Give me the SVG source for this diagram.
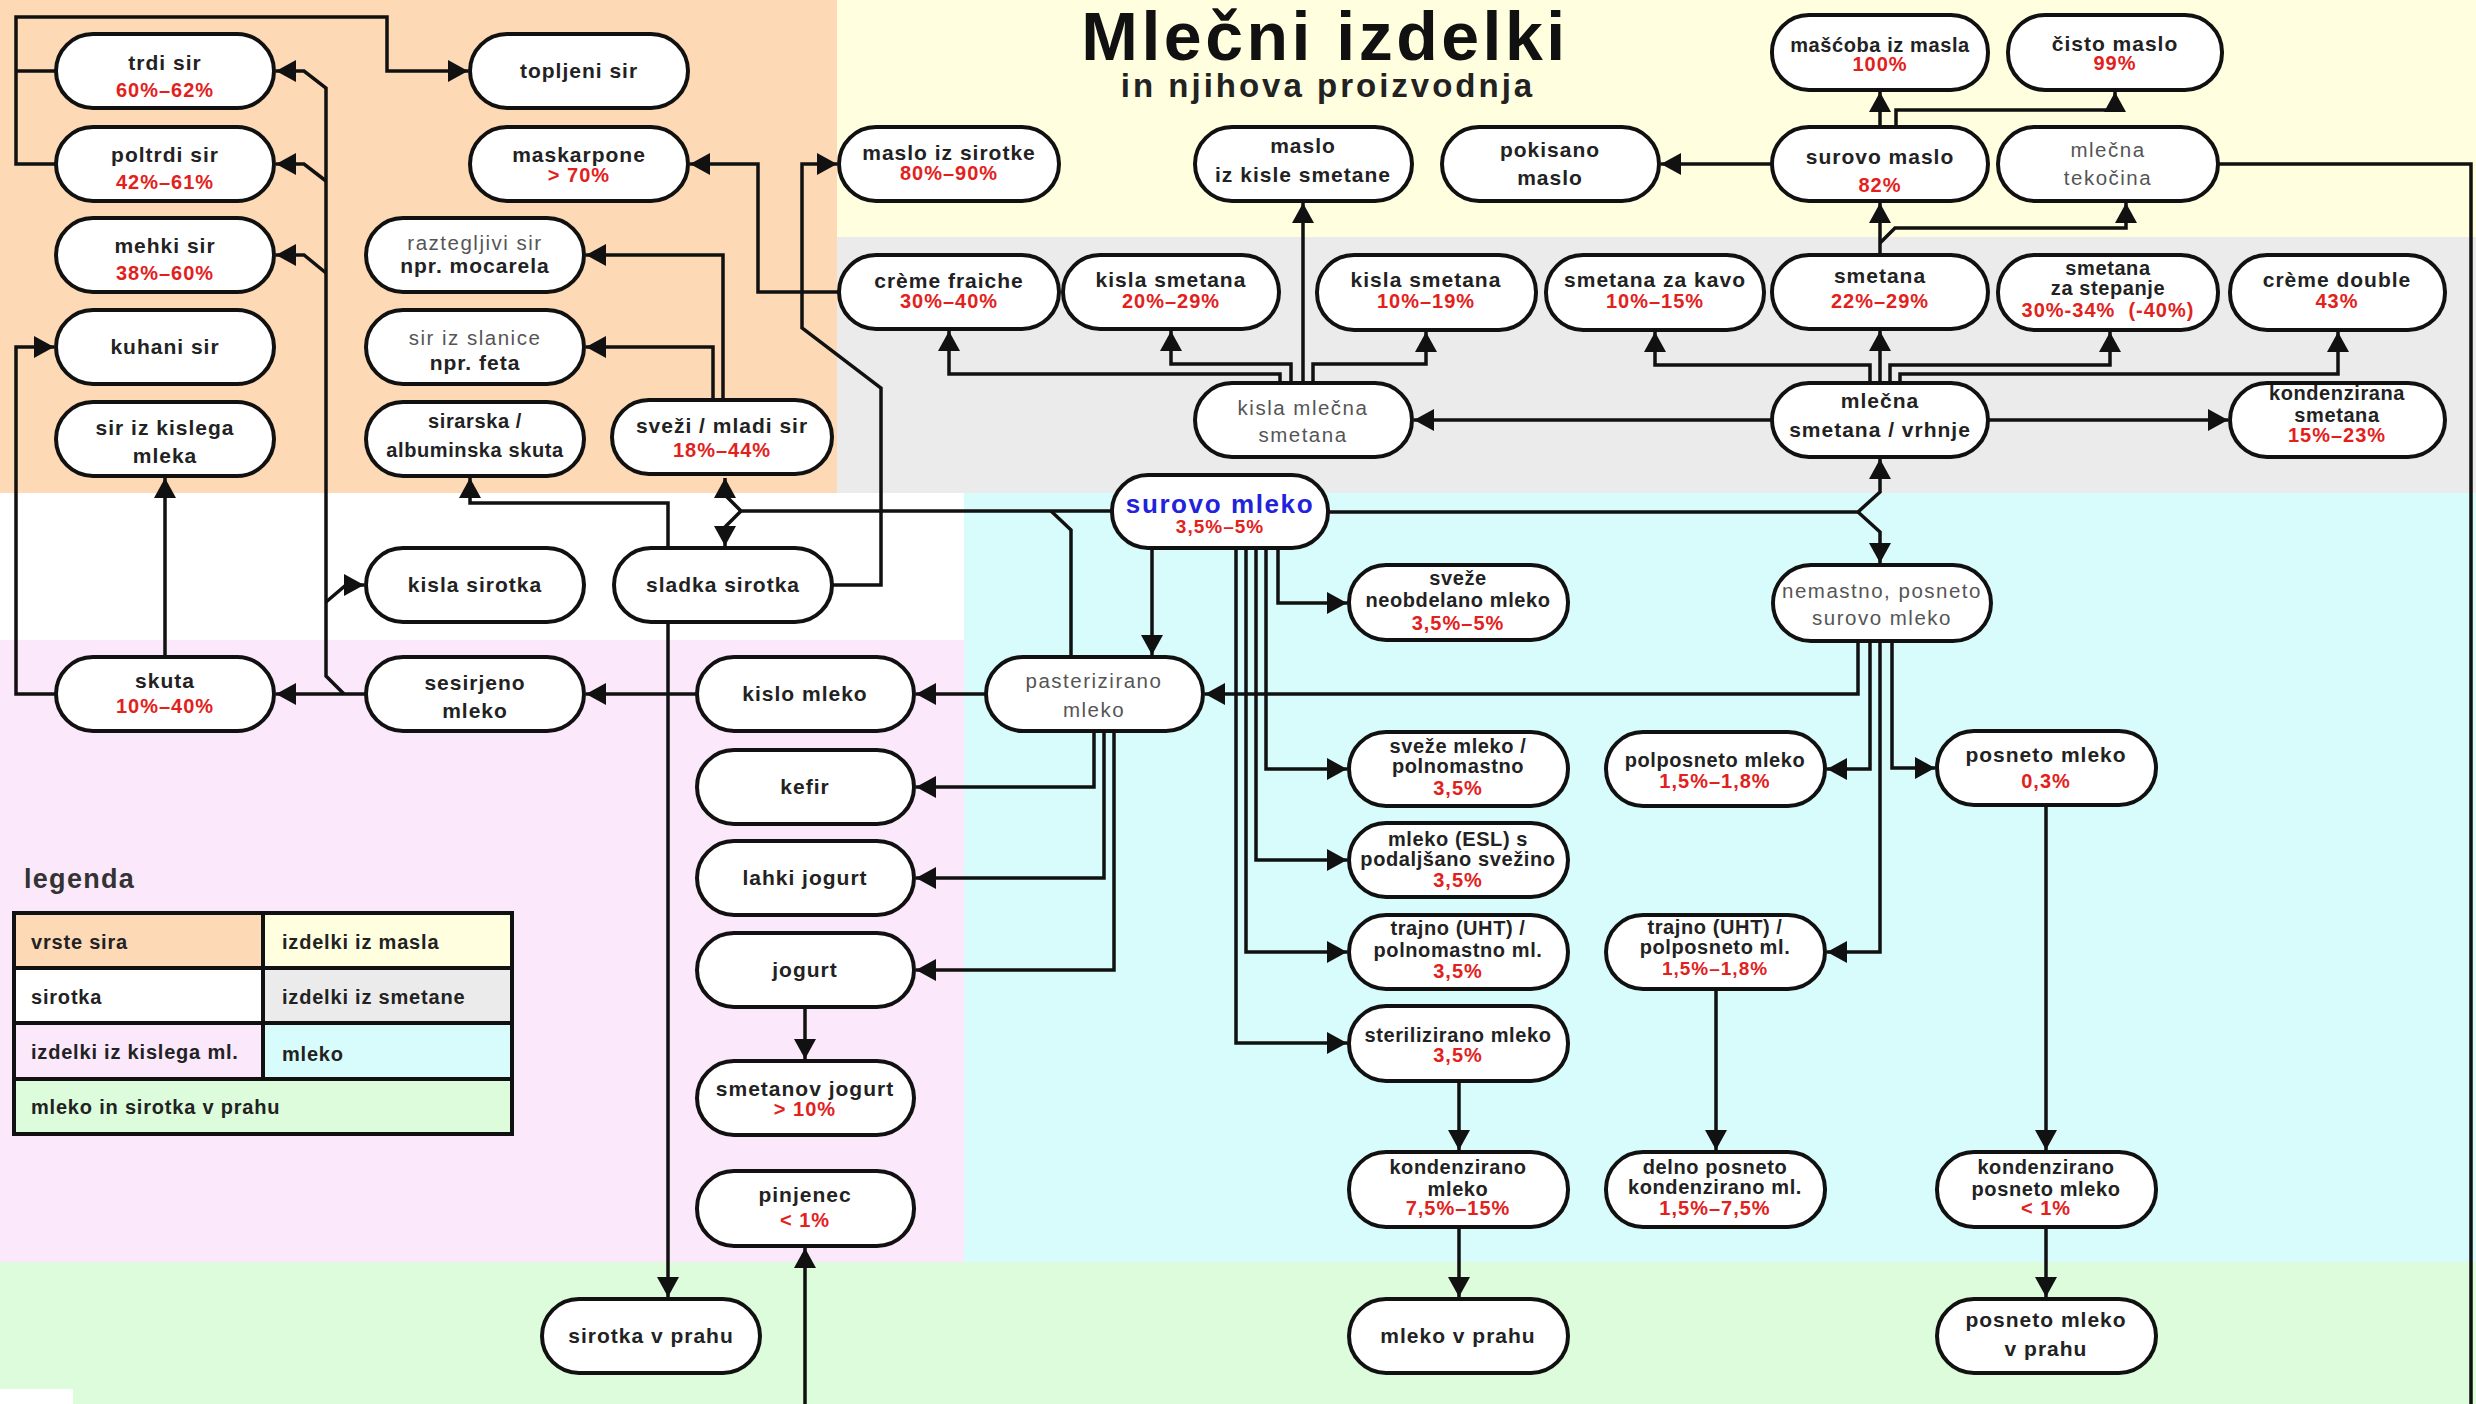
<svg xmlns="http://www.w3.org/2000/svg" width="2476" height="1404" viewBox="0 0 2476 1404">
<defs>
<style>
.n{fill:#fff;stroke:#111;stroke-width:4}
.t{font-family:"Liberation Sans",Arial,sans-serif;font-weight:bold;font-size:21px;fill:#222;text-anchor:middle;letter-spacing:1px}
.s{font-size:20px;letter-spacing:0.6px}
.r{fill:#e3211c;font-size:20px}
.g{font-weight:normal;fill:#555;font-size:20.5px;letter-spacing:1.5px}
.b{fill:#2222dd;font-size:26px;letter-spacing:1.6px}
.lg{font-family:"Liberation Sans",Arial,sans-serif;font-weight:bold;font-size:20px;fill:#222;letter-spacing:0.8px}
.c path{fill:none;stroke:#111;stroke-width:3.5}
.a{marker-end:url(#ah)}
</style>
<marker id="ah" viewBox="0 0 20 22" refX="20" refY="11" markerWidth="20" markerHeight="22" markerUnits="userSpaceOnUse" orient="auto">
<path d="M0,0 L20,11 L0,22 z" fill="#111"/>
</marker>
</defs>

<g id="backgrounds">
<rect x="0" y="0" width="837" height="493" fill="#fdd9b5"/>
<rect x="837" y="0" width="1639" height="237" fill="#ffffe0"/>
<rect x="837" y="237" width="1639" height="256" fill="#ebebeb"/>
<rect x="0" y="493" width="964" height="147" fill="#ffffff"/>
<rect x="0" y="640" width="964" height="622" fill="#fbe8fb"/>
<rect x="964" y="493" width="1512" height="769" fill="#d8fcfc"/>
<rect x="0" y="1262" width="2476" height="142" fill="#dcfcdc"/>
<rect x="0" y="1389" width="73" height="15" fill="#ffffff"/>
</g>

<g id="title">
<text x="1325" y="60" style="font-family:'Liberation Sans',Arial,sans-serif;font-weight:bold;font-size:68px;letter-spacing:3.5px;fill:#111;text-anchor:middle">Mlečni izdelki</text>
<text x="1328" y="97" style="font-family:'Liberation Sans',Arial,sans-serif;font-weight:bold;font-size:33px;letter-spacing:3px;fill:#222;text-anchor:middle">in njihova proizvodnja</text>
</g>

<g id="legend">
<text x="24" y="888" style="font-family:'Liberation Sans',Arial,sans-serif;font-weight:bold;font-size:27px;letter-spacing:1.3px;fill:#333">legenda</text>
<rect x="14" y="913" width="249" height="55" fill="#fdd9b5"/>
<rect x="263" y="913" width="249" height="55" fill="#ffffe0"/>
<rect x="14" y="968" width="249" height="55" fill="#ffffff"/>
<rect x="263" y="968" width="249" height="55" fill="#ebebeb"/>
<rect x="14" y="1023" width="249" height="56" fill="#fbe8fb"/>
<rect x="263" y="1023" width="249" height="56" fill="#d8fcfc"/>
<rect x="14" y="1079" width="498" height="55" fill="#dcfcdc"/>
<path d="M14,968 H512 M14,1023 H512 M14,1079 H512 M263,913 V1079" stroke="#111" stroke-width="4" fill="none"/>
<rect x="14" y="913" width="498" height="221" fill="none" stroke="#111" stroke-width="4"/>
<text class="lg" x="31" y="949">vrste sira</text>
<text class="lg" x="282" y="949">izdelki iz masla</text>
<text class="lg" x="31" y="1004">sirotka</text>
<text class="lg" x="282" y="1004">izdelki iz smetane</text>
<text class="lg" x="31" y="1059">izdelki iz kislega ml.</text>
<text class="lg" x="282" y="1061">mleko</text>
<text class="lg" x="31" y="1114">mleko in sirotka v prahu</text>
</g>

<g id="connectors" class="c">
<path class="a" d="M56,71 H16 M56,164 H16 V17 H387 V71 H468"/>
<path class="a" d="M366,694 H276"/>
<path class="a" d="M344,694 L326,676 V88 L304,71 H276"/>
<path class="a" d="M326,181 L304,164 H276"/>
<path class="a" d="M326,273 L304,255 H276"/>
<path class="a" d="M326,602 L346,585 H364"/>
<path class="a" d="M56,694 H16 V347 H54"/>
<path class="a" d="M165,657 V478"/>
<path class="a" d="M697,694 H586"/>
<path class="a" d="M986,694 H916"/>
<path class="a" d="M1094,731 V787 H916"/>
<path class="a" d="M1104,731 V878 H916"/>
<path class="a" d="M1114,731 V970 H916"/>
<path class="a" d="M805,1007 V1059"/>
<path class="a" d="M2218,164 H2471 V1450 H805 V1248"/>
<path class="a" d="M668,622 V1297"/>
<path class="a" d="M668,548 V503 H470 V478"/>
<path class="a" d="M832,585 H881 V388 L802,328 V164 H837"/>
<path class="a" d="M723,400 V255 H586"/>
<path class="a" d="M713,400 V347 H586"/>
<path class="a" d="M839,292 H758 V164 H690"/>
<path class="a" d="M1112,511 H741 L725,495 V478"/>
<path class="a" d="M741,511 L725,527 V546"/>
<path d="M1051,511 L1071,530 V657"/>
<path class="a" d="M1152,548 V655"/>
<path class="a" d="M1278,548 V603 H1347"/>
<path class="a" d="M1266,548 V769 H1347"/>
<path class="a" d="M1256,548 V860 H1347"/>
<path class="a" d="M1246,548 V952 H1347"/>
<path class="a" d="M1236,548 V1043 H1347"/>
<path class="a" d="M1459,1081 V1150"/>
<path class="a" d="M1459,1227 V1297"/>
<path class="a" d="M1328,512 H1858 L1880,492 V459"/>
<path class="a" d="M1858,512 L1880,532 V563"/>
<path class="a" d="M1858,641 V694 H1205"/>
<path class="a" d="M1870,641 V769 H1827"/>
<path class="a" d="M1880,641 V952 H1827"/>
<path class="a" d="M1892,641 V768 H1935"/>
<path class="a" d="M2046,805 V1150"/>
<path class="a" d="M2046,1227 V1297"/>
<path class="a" d="M1716,989 V1150"/>
<path class="a" d="M1772,420 H1414"/>
<path class="a" d="M1988,420 H2228"/>
<path class="a" d="M1870,383 V365 H1655 V332"/>
<path class="a" d="M1880,383 V331"/>
<path class="a" d="M1890,383 V365 H2110 V332"/>
<path class="a" d="M1900,383 V374 H2338 V332"/>
<path class="a" d="M1880,255 V203"/>
<path class="a" d="M1880,243 L1895,228 H2126 V203"/>
<path class="a" d="M1880,127 V92"/>
<path class="a" d="M1896,127 V110 H2115 V92"/>
<path class="a" d="M1772,164 H1661"/>
<path class="a" d="M1280,383 V374 H949 V331"/>
<path class="a" d="M1291,383 V364 H1171 V331"/>
<path class="a" d="M1303,383 V203"/>
<path class="a" d="M1313,383 V364 H1426 V332"/>
</g>

<g id="n-trdi-sir"><rect class="n" x="56" y="34" width="218" height="74" rx="37"/><text class="t" x="165" y="70">trdi sir</text><text class="t r" x="165" y="97">60%–62%</text></g>
<g id="n-poltrdi-sir"><rect class="n" x="56" y="127" width="218" height="74" rx="37"/><text class="t" x="165" y="162">poltrdi sir</text><text class="t r" x="165" y="189">42%–61%</text></g>
<g id="n-mehki-sir"><rect class="n" x="56" y="218" width="218" height="74" rx="37"/><text class="t" x="165" y="253">mehki sir</text><text class="t r" x="165" y="280">38%–60%</text></g>
<g id="n-kuhani-sir"><rect class="n" x="56" y="310" width="218" height="74" rx="37"/><text class="t" x="165" y="354">kuhani sir</text></g>
<g id="n-sir-iz-kislega-mleka"><rect class="n" x="56" y="402" width="218" height="74" rx="37"/><text class="t" x="165" y="435">sir iz kislega</text><text class="t" x="165" y="463">mleka</text></g>
<g id="n-topljeni-sir"><rect class="n" x="470" y="34" width="218" height="74" rx="37"/><text class="t" x="579" y="78">topljeni sir</text></g>
<g id="n-maskarpone"><rect class="n" x="470" y="127" width="218" height="74" rx="37"/><text class="t" x="579" y="162">maskarpone</text><text class="t r" x="579" y="182">&gt; 70%</text></g>
<g id="n-raztegljivi-sir"><rect class="n" x="366" y="218" width="218" height="74" rx="37"/><text class="t g" x="475" y="250">raztegljivi sir</text><text class="t" x="475" y="273">npr. mocarela</text></g>
<g id="n-sir-iz-slanice"><rect class="n" x="366" y="310" width="218" height="74" rx="37"/><text class="t g" x="475" y="345">sir iz slanice</text><text class="t" x="475" y="370">npr. feta</text></g>
<g id="n-sirarska-skuta"><rect class="n" x="366" y="402" width="218" height="74" rx="37"/><text class="t s" x="475" y="428">sirarska /</text><text class="t s" x="475" y="457">albuminska skuta</text></g>
<g id="n-svezi-mladi-sir"><rect class="n" x="612" y="400" width="220" height="74" rx="37"/><text class="t" x="722" y="433">sveži / mladi sir</text><text class="t r" x="722" y="457">18%–44%</text></g>
<g id="n-kisla-sirotka"><rect class="n" x="366" y="548" width="218" height="74" rx="37"/><text class="t" x="475" y="592">kisla sirotka</text></g>
<g id="n-sladka-sirotka"><rect class="n" x="614" y="548" width="218" height="74" rx="37"/><text class="t" x="723" y="592">sladka sirotka</text></g>
<g id="n-skuta"><rect class="n" x="56" y="657" width="218" height="74" rx="37"/><text class="t" x="165" y="688">skuta</text><text class="t r" x="165" y="713">10%–40%</text></g>
<g id="n-sesirjeno-mleko"><rect class="n" x="366" y="657" width="218" height="74" rx="37"/><text class="t" x="475" y="690">sesirjeno</text><text class="t" x="475" y="718">mleko</text></g>
<g id="n-kislo-mleko"><rect class="n" x="697" y="657" width="217" height="74" rx="37"/><text class="t" x="805" y="701">kislo mleko</text></g>
<g id="n-kefir"><rect class="n" x="697" y="750" width="217" height="74" rx="37"/><text class="t" x="805" y="794">kefir</text></g>
<g id="n-lahki-jogurt"><rect class="n" x="697" y="841" width="217" height="74" rx="37"/><text class="t" x="805" y="885">lahki jogurt</text></g>
<g id="n-jogurt"><rect class="n" x="697" y="933" width="217" height="74" rx="37"/><text class="t" x="805" y="977">jogurt</text></g>
<g id="n-smetanov-jogurt"><rect class="n" x="697" y="1061" width="217" height="74" rx="37"/><text class="t" x="805" y="1096">smetanov jogurt</text><text class="t r" x="805" y="1116">&gt; 10%</text></g>
<g id="n-pinjenec"><rect class="n" x="697" y="1171" width="217" height="75" rx="37"/><text class="t" x="805" y="1202">pinjenec</text><text class="t r" x="805" y="1227">&lt; 1%</text></g>
<g id="n-sirotka-v-prahu"><rect class="n" x="542" y="1299" width="218" height="74" rx="37"/><text class="t" x="651" y="1343">sirotka v prahu</text></g>
<g id="n-pasterizirano-mleko"><rect class="n" x="986" y="657" width="217" height="74" rx="37"/><text class="t g" x="1094" y="688">pasterizirano</text><text class="t g" x="1094" y="717">mleko</text></g>
<g id="n-surovo-mleko"><rect class="n" x="1112" y="475" width="216" height="73" rx="36"/><text class="t b" x="1220" y="513">surovo mleko</text><text class="t r" x="1220" y="533" style="font-size:19px">3,5%–5%</text></g>
<g id="n-svezo-neobdelano"><rect class="n" x="1349" y="565" width="219" height="75" rx="37"/><text class="t s" x="1458" y="585">sveže</text><text class="t s" x="1458" y="607">neobdelano mleko</text><text class="t r" x="1458" y="630">3,5%–5%</text></g>
<g id="n-sveze-polnomastno"><rect class="n" x="1349" y="732" width="219" height="74" rx="37"/><text class="t s" x="1458" y="753">sveže mleko /</text><text class="t s" x="1458" y="773">polnomastno</text><text class="t r" x="1458" y="795">3,5%</text></g>
<g id="n-mleko-esl"><rect class="n" x="1349" y="823" width="219" height="74" rx="37"/><text class="t s" x="1458" y="846">mleko (ESL) s</text><text class="t s" x="1458" y="866">podaljšano svežino</text><text class="t r" x="1458" y="887">3,5%</text></g>
<g id="n-uht-polnomastno"><rect class="n" x="1349" y="915" width="219" height="74" rx="37"/><text class="t s" x="1458" y="935">trajno (UHT) /</text><text class="t s" x="1458" y="957">polnomastno ml.</text><text class="t r" x="1458" y="978">3,5%</text></g>
<g id="n-sterilizirano-mleko"><rect class="n" x="1349" y="1006" width="219" height="75" rx="37"/><text class="t s" x="1458" y="1042">sterilizirano mleko</text><text class="t r" x="1458" y="1062">3,5%</text></g>
<g id="n-kondenzirano-mleko"><rect class="n" x="1349" y="1152" width="219" height="75" rx="37"/><text class="t s" x="1458" y="1174">kondenzirano</text><text class="t s" x="1458" y="1196">mleko</text><text class="t r" x="1458" y="1215">7,5%–15%</text></g>
<g id="n-mleko-v-prahu"><rect class="n" x="1349" y="1299" width="219" height="74" rx="37"/><text class="t" x="1458" y="1343">mleko v prahu</text></g>
<g id="n-polposneto-mleko"><rect class="n" x="1606" y="732" width="219" height="74" rx="37"/><text class="t s" x="1715" y="767">polposneto mleko</text><text class="t r" x="1715" y="788">1,5%–1,8%</text></g>
<g id="n-uht-polposneto"><rect class="n" x="1606" y="915" width="219" height="74" rx="37"/><text class="t s" x="1715" y="934">trajno (UHT) /</text><text class="t s" x="1715" y="954">polposneto ml.</text><text class="t r" x="1715" y="975" style="font-size:19px">1,5%–1,8%</text></g>
<g id="n-delno-posneto"><rect class="n" x="1606" y="1152" width="219" height="75" rx="37"/><text class="t s" x="1715" y="1174">delno posneto</text><text class="t s" x="1715" y="1194">kondenzirano ml.</text><text class="t r" x="1715" y="1215">1,5%–7,5%</text></g>
<g id="n-nemastno-mleko"><rect class="n" x="1773" y="565" width="218" height="76" rx="38"/><text class="t g" x="1882" y="598">nemastno, posneto</text><text class="t g" x="1882" y="625">surovo mleko</text></g>
<g id="n-posneto-mleko"><rect class="n" x="1937" y="731" width="219" height="74" rx="37"/><text class="t" x="2046" y="762">posneto mleko</text><text class="t r" x="2046" y="788">0,3%</text></g>
<g id="n-kondenzirano-posneto"><rect class="n" x="1937" y="1152" width="219" height="75" rx="37"/><text class="t s" x="2046" y="1174">kondenzirano</text><text class="t s" x="2046" y="1196">posneto mleko</text><text class="t r" x="2046" y="1215">&lt; 1%</text></g>
<g id="n-posneto-v-prahu"><rect class="n" x="1937" y="1299" width="219" height="74" rx="37"/><text class="t" x="2046" y="1327">posneto mleko</text><text class="t" x="2046" y="1356">v prahu</text></g>
<g id="n-mascoba"><rect class="n" x="1772" y="15" width="216" height="75" rx="37"/><text class="t s" x="1880" y="52">mašćoba iz masla</text><text class="t r" x="1880" y="71">100%</text></g>
<g id="n-cisto-maslo"><rect class="n" x="2008" y="15" width="214" height="75" rx="37"/><text class="t" x="2115" y="51">čisto maslo</text><text class="t r" x="2115" y="70">99%</text></g>
<g id="n-surovo-maslo"><rect class="n" x="1772" y="127" width="216" height="74" rx="37"/><text class="t" x="1880" y="164">surovo maslo</text><text class="t r" x="1880" y="192">82%</text></g>
<g id="n-mlecna-tekocina"><rect class="n" x="1998" y="127" width="220" height="74" rx="37"/><text class="t g" x="2108" y="157">mlečna</text><text class="t g" x="2108" y="185">tekočina</text></g>
<g id="n-pokisano-maslo"><rect class="n" x="1442" y="127" width="217" height="74" rx="37"/><text class="t" x="1550" y="157">pokisano</text><text class="t" x="1550" y="185">maslo</text></g>
<g id="n-maslo-kisle-smetane"><rect class="n" x="1195" y="127" width="217" height="74" rx="37"/><text class="t" x="1303" y="153">maslo</text><text class="t" x="1303" y="182">iz kisle smetane</text></g>
<g id="n-maslo-iz-sirotke"><rect class="n" x="839" y="127" width="220" height="74" rx="37"/><text class="t" x="949" y="160">maslo iz sirotke</text><text class="t r" x="949" y="180">80%–90%</text></g>
<g id="n-creme-fraiche"><rect class="n" x="839" y="255" width="220" height="74" rx="37"/><text class="t" x="949" y="288">crème fraiche</text><text class="t r" x="949" y="308">30%–40%</text></g>
<g id="n-kisla-smetana-20"><rect class="n" x="1063" y="255" width="216" height="74" rx="37"/><text class="t" x="1171" y="287">kisla smetana</text><text class="t r" x="1171" y="308">20%–29%</text></g>
<g id="n-kisla-smetana-10"><rect class="n" x="1317" y="255" width="219" height="75" rx="37"/><text class="t" x="1426" y="287">kisla smetana</text><text class="t r" x="1426" y="308">10%–19%</text></g>
<g id="n-smetana-za-kavo"><rect class="n" x="1546" y="255" width="218" height="75" rx="37"/><text class="t" x="1655" y="287">smetana za kavo</text><text class="t r" x="1655" y="308">10%–15%</text></g>
<g id="n-smetana"><rect class="n" x="1772" y="255" width="216" height="74" rx="37"/><text class="t" x="1880" y="283">smetana</text><text class="t r" x="1880" y="308">22%–29%</text></g>
<g id="n-smetana-za-stepanje"><rect class="n" x="1998" y="255" width="220" height="75" rx="37"/><text class="t s" x="2108" y="275">smetana</text><text class="t s" x="2108" y="295">za stepanje</text><text class="t r" x="2108" y="317" xml:space="preserve">30%-34%  (-40%)</text></g>
<g id="n-creme-double"><rect class="n" x="2230" y="255" width="215" height="75" rx="37"/><text class="t" x="2337" y="287">crème double</text><text class="t r" x="2337" y="308">43%</text></g>
<g id="n-kisla-mlecna-smetana"><rect class="n" x="1195" y="383" width="217" height="74" rx="37"/><text class="t g" x="1303" y="415">kisla mlečna</text><text class="t g" x="1303" y="442">smetana</text></g>
<g id="n-mlecna-smetana"><rect class="n" x="1772" y="383" width="216" height="74" rx="37"/><text class="t" x="1880" y="408">mlečna</text><text class="t" x="1880" y="437">smetana / vrhnje</text></g>
<g id="n-kondenzirana-smetana"><rect class="n" x="2230" y="383" width="215" height="74" rx="37"/><text class="t s" x="2337" y="400">kondenzirana</text><text class="t s" x="2337" y="422">smetana</text><text class="t r" x="2337" y="442">15%–23%</text></g>
</svg>
